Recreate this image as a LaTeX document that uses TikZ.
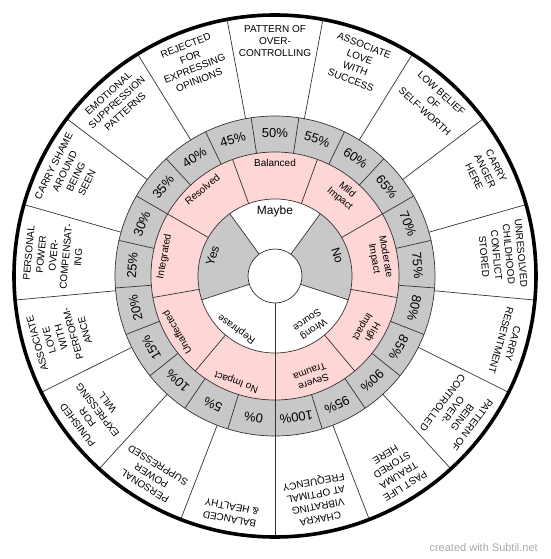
\documentclass[tikz,border=0pt]{standalone}
\usepackage{fontspec}
\setmainfont{Liberation Sans}
\definecolor{ringgray}{HTML}{C8C8C8}
\definecolor{ringpink}{HTML}{FFD6D6}
\definecolor{creditgray}{HTML}{A8A8A8}

\begin{document}
\begin{tikzpicture}[x=1pt,y=1pt,
  ring line/.style={draw=black!80,line width=0.7pt},
  rim line/.style={draw=black,line width=3.6pt},
  area label/.style={inner sep=0pt,align=center,anchor=north,
    font=\fontsize{10}{12.4}\selectfont},
  pct label/.style={inner sep=0pt,font=\fontsize{13}{15}\selectfont},
  state label/.style={inner sep=0pt,align=center,anchor=north,
    font=\fontsize{10}{11.5}\selectfont},
  answer label/.style={inner sep=0pt,align=center,anchor=north,
    font=\fontsize{12}{13}\selectfont}]

  \useasboundingbox (-275,-283) rectangle (275,276);

  % ring fills
  \fill[ringgray] (0,0) circle[radius=160pt];
  \fill[ringpink] (0,0) circle[radius=124pt];
  \fill[white] (0,0) circle[radius=77pt];
  \foreach \s/\e in {126/198,-18/54}
    \fill[ringgray] (\e:27) arc[start angle=\e,end angle=\s,radius=27pt]
      -- (\s:77) arc[start angle=\s,end angle=\e,radius=77pt] -- cycle;

  % circles and spokes
  \draw[ring line] (0,0) circle[radius=27pt] circle[radius=77pt]
    circle[radius=124pt] circle[radius=160pt];
  \foreach \k in {0,...,4}
    \draw[ring line] ({270-72*\k}:27) -- ({270-72*\k}:77);
  \foreach \k in {0,...,8}
    \draw[ring line] ({270-40*\k}:77) -- ({270-40*\k}:124);
  \foreach \k in {0,...,20}
    \draw[ring line] ({270-360/21*\k}:124) -- ({270-360/21*\k}:160);
  \foreach \k in {0,...,16}
    \draw[ring line] ({270-360/17*\k}:160) -- ({270-360/17*\k}:261);
  \draw[rim line] (0,0) circle[radius=261pt];

  % answers
  \node[state label,rotate=144] (rephrase) at (234:70) {Rephrase};
  \node[answer label,rotate=72] (yes) at (162:70) {Yes};
  \node[answer label] (maybe) at (90:70) {Maybe};
  \node[answer label,rotate=-72] (no) at (18:70) {No};
  \node[state label,rotate=-144] (wrong) at (-54:70) {Wrong\\Source};

  % impact ring
  \foreach \k/\txt in {0/No Impact,1/Unaffected,2/Integrated,3/Resolved,
      4/Balanced,5/{Mild\\Impact},6/{Moderate\\Impact},7/{High\\Impact},
      8/{Severe\\Trauma}}{
    \pgfmathsetmacro{\a}{270-40*(\k+0.5)}
    \node[state label,rotate=\a-90] (state\k) at (\a:117) {\txt};
  }

  % percentages
  \foreach \k in {0,...,20}{
    \pgfmathsetmacro{\a}{270-360/21*(\k+0.5)}
    \pgfmathtruncatemacro{\p}{5*\k}
    \node[pct label,rotate=\a-90] (pct\k) at (\a:143) {\p\%};
  }

  % outer areas
  \foreach \k/\txt in {0/{BALANCED\\\& HEALTHY},
      1/{PERSONAL\\POWER\\SUPPRESSED},
      2/{PUNISHED\\FOR\\EXPRESSING\\WILL},
      3/{ASSOCIATE\\LOVE\\WITH\\PERFORM-\\ANCE},
      4/{PERSONAL\\POWER\\OVER-\\COMPENSAT-\\ING},
      5/{CARRY SHAME\\AROUND\\BEING\\SEEN},
      6/{EMOTIONAL\\SUPPRESSION\\PATTERNS},
      7/{REJECTED\\FOR\\EXPRESSING\\OPINIONS},
      8/{PATTERN OF\\OVER-\\CONTROLLING},
      9/{ASSOCIATE\\LOVE\\WITH\\SUCCESS},
      10/{LOW BELIEF\\OF\\SELF-WORTH},
      11/{CARRY\\ANGER\\HERE},
      12/{UNRESOLVED\\CHILDHOOD\\CONFLICT\\STORED},
      13/{CARRY\\RESENTMENT},
      14/{PATTERN OF\\BEING\\OVER-\\CONTROLLED},
      15/{PAST LIFE\\TRAUMA\\STORED\\HERE},
      16/{CHAKRA\\VIBRATING\\AT OPTIMAL\\FREQUENCY}}{
    \pgfmathsetmacro{\a}{270-360/17*(\k+0.5)}
    \node[area label,rotate=\a-90] (area\k) at (\a:251) {\txt};
  }

  \node[inner sep=0pt,anchor=east,text=creditgray,
    font=\fontsize{11}{13}\selectfont] (credit) at (263,-272)
    {created with Subtil.net};

\end{tikzpicture}
\end{document}
